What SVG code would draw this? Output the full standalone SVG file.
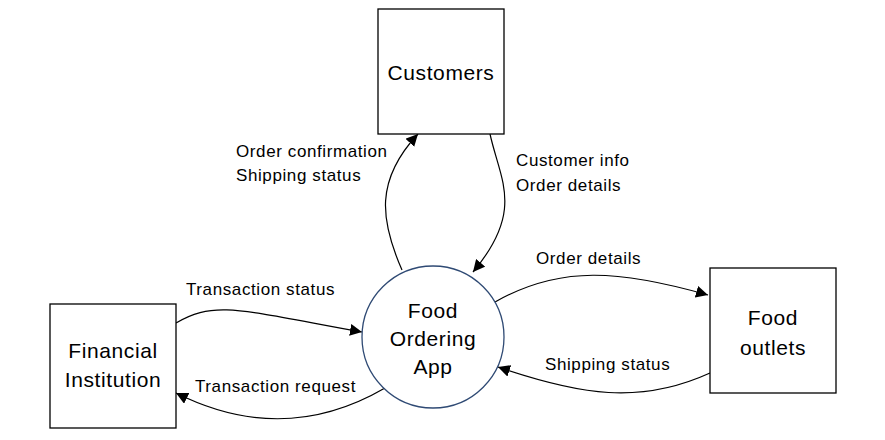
<svg xmlns="http://www.w3.org/2000/svg" width="885" height="440" viewBox="0 0 885 440">
<style>
.box{fill:#fff;stroke:#000;stroke-width:1.3}
.circ{fill:#fff;stroke:#2F4A74;stroke-width:1.3}
.node{font-family:"Liberation Sans",Arial,sans-serif;font-size:21px;letter-spacing:0.6px;fill:#000;text-anchor:middle}
.lbl{font-family:"Liberation Sans",Arial,sans-serif;font-size:17px;letter-spacing:0.6px;fill:#000}
.edge{fill:none;stroke:#000;stroke-width:1.2;marker-end:url(#arr)}
</style>
<defs>
<marker id="arr" viewBox="0 0 10 10" refX="10" refY="5" markerWidth="12" markerHeight="12" markerUnits="userSpaceOnUse" orient="auto">
<path d="M0,0 L10,5 L0,10 z" fill="#000"/>
</marker>
</defs>
<rect width="885" height="440" fill="#fff"/>
<g id="connectors">
<path class="edge" d="M402,270 C380,220 375,180 418,134"/>
<path class="edge" d="M490,134 C500,180 525,210 473,272"/>
<path class="edge" d="M176,323 C215,300 240,310 362,332"/>
<path class="edge" d="M385,388 C330,420 260,435 176,393"/>
<path class="edge" d="M495,302 C560,265 620,270 708,295"/>
<path class="edge" d="M710,373 C640,405 580,395 498,367"/>
</g>
<g id="customers">
<rect class="box" x="378" y="9" width="126" height="125"/>
<text class="node" x="441" y="80">Customers</text>
</g>
<g id="app">
<circle class="circ" cx="433" cy="337" r="71"/>
<text class="node" x="433" y="318">Food</text>
<text class="node" x="433" y="346">Ordering</text>
<text class="node" x="433" y="374">App</text>
</g>
<g id="financial">
<rect class="box" x="50" y="304" width="126" height="124"/>
<text class="node" x="113" y="358">Financial</text>
<text class="node" x="113" y="387">Institution</text>
</g>
<g id="outlets">
<rect class="box" x="710" y="268" width="126" height="125"/>
<text class="node" x="773" y="325">Food</text>
<text class="node" x="773" y="355">outlets</text>
</g>
<g id="labels">
<text class="lbl" x="236" y="157">Order confirmation</text>
<text class="lbl" x="236" y="181">Shipping status</text>
<text class="lbl" x="516" y="166">Customer info</text>
<text class="lbl" x="516" y="191">Order details</text>
<text class="lbl" x="536" y="264">Order details</text>
<text class="lbl" x="186" y="295">Transaction status</text>
<text class="lbl" x="195" y="392">Transaction request</text>
<text class="lbl" x="545" y="370">Shipping status</text>
</g>
</svg>
